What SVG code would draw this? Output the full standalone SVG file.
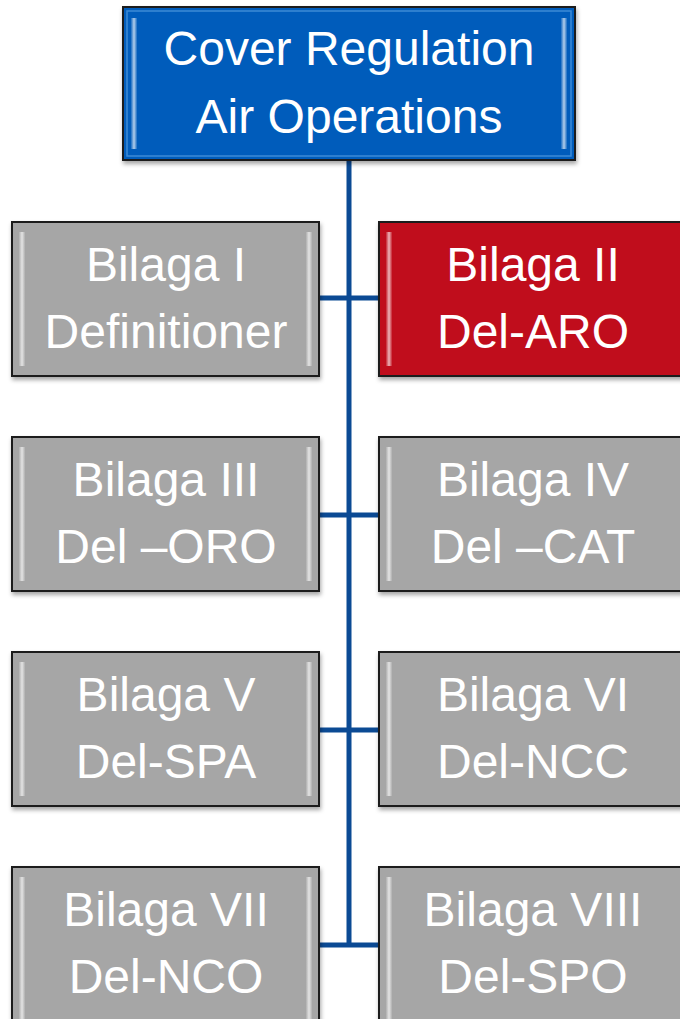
<svg xmlns="http://www.w3.org/2000/svg" width="680" height="1019" viewBox="0 0 680 1019">
<defs>
<style>
.t{font-family:"Liberation Sans",Arial,sans-serif;font-size:48px;fill:#fff;text-anchor:middle}
.box{stroke:#1a1a1a;stroke-width:2}
.conn{stroke:#0b4a94;stroke-width:5;fill:none}
</style>
<linearGradient id="bl" x1="0" x2="1" y1="0" y2="0"><stop offset="0" stop-color="#fff" stop-opacity="0.1"/><stop offset="0.5" stop-color="#fff" stop-opacity="0.7"/><stop offset="1" stop-color="#fff" stop-opacity="0.1"/></linearGradient>
<filter id="sh" x="-5%" y="-5%" width="110%" height="115%"><feDropShadow dx="1" dy="3" stdDeviation="2" flood-opacity="0.35"/></filter>
</defs>
<g id="connectors">
<line class="conn" x1="349" y1="160" x2="349" y2="947"/>
<line class="conn" x1="319" y1="298" x2="379" y2="298"/>
<line class="conn" x1="319" y1="515" x2="379" y2="515"/>
<line class="conn" x1="319" y1="730" x2="379" y2="730"/>
<line class="conn" x1="319" y1="945" x2="379" y2="945"/>
</g>
<g id="top">
<rect class="box" x="123" y="7" width="452" height="153" fill="#005bbb" filter="url(#sh)"/>
<rect x="127" y="11" width="444" height="145" fill="none" stroke="#3d8ad6" stroke-width="1.5"/>
<rect x="131" y="18" width="6" height="131" fill="url(#bl)"/>
<rect x="561" y="18" width="6" height="131" fill="url(#bl)"/>
<text class="t" x="349" y="65">Cover Regulation</text>
<text class="t" x="349" y="133">Air Operations</text>
</g>
<g id="b1">
<rect class="box" x="12" y="222" width="307" height="154" fill="#a6a6a6" filter="url(#sh)"/>
<rect x="19" y="232" width="6" height="134" fill="url(#bl)"/>
<rect x="306" y="232" width="6" height="134" fill="url(#bl)"/>
<text class="t" x="166" y="281">Bilaga I</text>
<text class="t" x="166" y="348">Definitioner</text>
</g>
<g id="b2">
<rect class="box" x="379" y="222" width="307" height="154" fill="#c00b1e" filter="url(#sh)"/>
<rect x="386" y="232" width="6" height="134" fill="url(#bl)"/>
<text class="t" x="533" y="281">Bilaga II</text>
<text class="t" x="533" y="348">Del-ARO</text>
</g>
<g id="b3">
<rect class="box" x="12" y="437" width="307" height="154" fill="#a6a6a6" filter="url(#sh)"/>
<rect x="19" y="447" width="6" height="134" fill="url(#bl)"/>
<rect x="306" y="447" width="6" height="134" fill="url(#bl)"/>
<text class="t" x="166" y="496">Bilaga III</text>
<text class="t" x="166" y="563">Del –ORO</text>
</g>
<g id="b4">
<rect class="box" x="379" y="437" width="307" height="154" fill="#a6a6a6" filter="url(#sh)"/>
<rect x="386" y="447" width="6" height="134" fill="url(#bl)"/>
<text class="t" x="533" y="496">Bilaga IV</text>
<text class="t" x="533" y="563">Del –CAT</text>
</g>
<g id="b5">
<rect class="box" x="12" y="652" width="307" height="154" fill="#a6a6a6" filter="url(#sh)"/>
<rect x="19" y="662" width="6" height="134" fill="url(#bl)"/>
<rect x="306" y="662" width="6" height="134" fill="url(#bl)"/>
<text class="t" x="166" y="711">Bilaga V</text>
<text class="t" x="166" y="778">Del-SPA</text>
</g>
<g id="b6">
<rect class="box" x="379" y="652" width="307" height="154" fill="#a6a6a6" filter="url(#sh)"/>
<rect x="386" y="662" width="6" height="134" fill="url(#bl)"/>
<text class="t" x="533" y="711">Bilaga VI</text>
<text class="t" x="533" y="778">Del-NCC</text>
</g>
<g id="b7">
<rect class="box" x="12" y="867" width="307" height="160" fill="#a6a6a6" filter="url(#sh)"/>
<rect x="19" y="877" width="6" height="150" fill="url(#bl)"/>
<rect x="306" y="877" width="6" height="150" fill="url(#bl)"/>
<text class="t" x="166" y="926">Bilaga VII</text>
<text class="t" x="166" y="993">Del-NCO</text>
</g>
<g id="b8">
<rect class="box" x="379" y="867" width="307" height="160" fill="#a6a6a6" filter="url(#sh)"/>
<rect x="386" y="877" width="6" height="150" fill="url(#bl)"/>
<text class="t" x="533" y="926">Bilaga VIII</text>
<text class="t" x="533" y="993">Del-SPO</text>
</g>
</svg>
